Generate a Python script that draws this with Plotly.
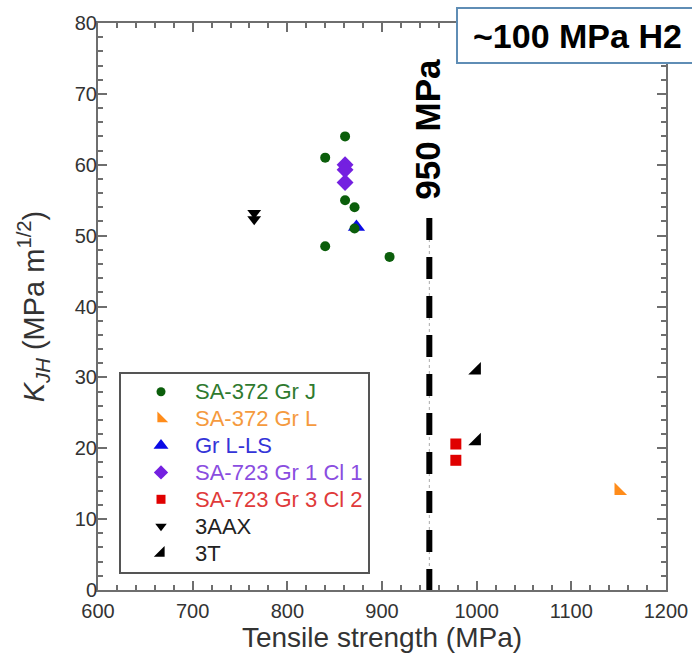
import plotly.graph_objects as go

# ---- data ----
gr_j_x = [840, 861, 861, 871, 871, 840, 908]
gr_j_y = [61, 64, 55, 54, 51, 48.5, 47]
gr_l_x = [1150]
gr_l_y = [14]
grlls_x = [873]
grlls_y = [51.2]
sa723_1_x = [861, 861, 861]
sa723_1_y = [60, 59.3, 57.5]
sa723_3_x = [978, 978]
sa723_3_y = [20.6, 18.3]
aax_x = [765, 765]
aax_y = [53.2, 52.3]
t3_x = [1000, 1000]
t3_y = [31, 21]
threshold_x = 950
threshold_top = 52.5
x_ticks = [600, 700, 800, 900, 1000, 1100, 1200]
y_ticks = [0, 10, 20, 30, 40, 50, 60, 70, 80]

FONT = "Liberation Sans, Arial, sans-serif"

series = [
    ("SA-372 Gr J", gr_j_x, gr_j_y, "circle", "#0b5e0b", "#2f7a2f", 10),
    ("SA-372 Gr L", gr_l_x, gr_l_y, "triangle-sw", "#ff8c1a", "#f59a3e", 14),
    ("Gr L-LS", grlls_x, grlls_y, "triangle-up", "#0a0ae6", "#3434d8", 15),
    ("SA-723 Gr 1 Cl 1", sa723_1_x, sa723_1_y, "diamond", "#7420e0", "#8a4de0", 13),
    ("SA-723 Gr 3 Cl 2", sa723_3_x, sa723_3_y, "square", "#e00000", "#e03a3a", 11),
    ("3AAX", aax_x, aax_y, "triangle-down", "#000000", "#222222", 12),
    ("3T", t3_x, t3_y, "triangle-se", "#000000", "#222222", 14),
]

# layout geometry (pixels)
W, H = 692, 655
ML, MR, MT, MB = 98, 26, 23, 65
PW, PH = W - ML - MR, H - MT - MB


def px_to_paper_x(px):
    return (px - ML) / PW


def px_to_paper_y(py):
    return (H - MB - py) / PH


fig = go.Figure()

# threshold lines
fig.add_trace(go.Scatter(x=[threshold_x, threshold_x], y=[0, threshold_top], mode="lines",
                         line=dict(color="#aaaaaa", width=1, dash="dot"),
                         showlegend=False, hoverinfo="skip"))
fig.add_trace(go.Scatter(x=[threshold_x, threshold_x], y=[threshold_top, 0], mode="lines",
                         line=dict(color="#000000", width=6, dash="22px,17px"),
                         showlegend=False, hoverinfo="skip"))

draw_order = [1, 2, 3, 4, 5, 6, 0]
for idx in draw_order:
    name, xs, ys, sym, mcol, tcol, size = series[idx]
    fig.add_trace(go.Scatter(
        x=xs, y=ys, mode="markers", name=name, showlegend=False,
        marker=dict(symbol=sym, color=mcol, size=size, opacity=1, line=dict(width=0)),
    ))

# ---- manual legend ----
leg_left, leg_right, leg_top, leg_bot = 120, 369, 373, 573
fig.add_shape(type="rect", xref="paper", yref="paper",
              x0=px_to_paper_x(leg_left), x1=px_to_paper_x(leg_right),
              y0=px_to_paper_y(leg_bot), y1=px_to_paper_y(leg_top),
              line=dict(color="#555555", width=2), fillcolor="white", layer="below")
row0, row_gap = 391.7, 26.9
glyph_x, text_x = 161, 193
lx, ly, lsym, lcol, lsize = [], [], [], [], []
for i, (name, xs, ys, sym, mcol, tcol, size) in enumerate(series):
    yy = px_to_paper_y(row0 + i * row_gap)
    lx.append(px_to_paper_x(glyph_x))
    ly.append(yy)
    lsym.append(sym)
    lcol.append(mcol)
    lsize.append(max(size - 2, 9))
    fig.add_annotation(x=px_to_paper_x(text_x), y=yy, xref="paper", yref="paper",
                       xanchor="left", yanchor="middle", showarrow=False, text=name,
                       font=dict(family=FONT, size=22, color=tcol))
fig.add_trace(go.Scatter(x=lx, y=ly, xaxis="x3", yaxis="y3", mode="markers",
                         marker=dict(symbol=lsym, color=lcol, size=lsize, opacity=1, line=dict(width=0)),
                         showlegend=False, hoverinfo="skip"))

# invisible trace for mirrored top/right axes
fig.add_trace(go.Scatter(x=[600], y=[0], xaxis="x2", yaxis="y2", mode="markers",
                         marker=dict(opacity=0), showlegend=False, hoverinfo="skip"))

AX = "#6e6e6e"
axis_common = dict(
    showline=True, linecolor=AX, linewidth=2,
    ticks="inside", ticklen=9, tickwidth=2, tickcolor=AX,
    showgrid=False, zeroline=False, automargin=False,
)
TF = dict(family=FONT, size=20, color="#333333")
minor_x = dict(dtick=20, ticks="inside", ticklen=5, tickwidth=2, tickcolor=AX, showgrid=False)
minor_y = dict(dtick=2, ticks="inside", ticklen=5, tickwidth=2, tickcolor=AX, showgrid=False)

fig.update_layout(
    xaxis=dict(range=[600, 1200], tickvals=x_ticks, minor=minor_x, tickfont=TF, ticklabelstandoff=2,
               title=dict(text="Tensile strength (MPa)", font=dict(family=FONT, size=28, color="#333333"), standoff=1),
               **axis_common),
    yaxis=dict(range=[0, 80], tickvals=y_ticks, minor=minor_y, tickfont=TF, ticklabelstandoff=-5,
               title=dict(text="<i>K</i><sub><i>JH</i></sub> (MPa m<sup>1/2</sup>)",
                          font=dict(family=FONT, size=29, color="#333333"), standoff=22),
               **axis_common),
    xaxis2=dict(range=[600, 1200], tickvals=x_ticks, minor=minor_x, overlaying="x", side="top",
                showticklabels=False, **axis_common),
    yaxis2=dict(range=[0, 80], tickvals=y_ticks, minor=minor_y, overlaying="y", side="right",
                showticklabels=False, **axis_common),
    xaxis3=dict(range=[0, 1], overlaying="x", visible=False, fixedrange=True),
    yaxis3=dict(range=[0, 1], overlaying="y", visible=False, fixedrange=True),
)

# 950 MPa label
fig.add_annotation(x=threshold_x, y=65, xref="x", yref="y", text="<b>950 MPa</b>",
                   textangle=-90, showarrow=False, xshift=-2,
                   font=dict(family=FONT, size=35, color="#000000"))

# title box
fig.add_shape(type="rect", xref="paper", yref="paper",
              x0=px_to_paper_x(457), x1=px_to_paper_x(720),
              y0=px_to_paper_y(63), y1=px_to_paper_y(8),
              line=dict(color="#5f8db5", width=2), fillcolor="white", layer="above")
fig.add_annotation(x=px_to_paper_x(471), y=px_to_paper_y(36), xref="paper", yref="paper",
                   xanchor="left", yanchor="middle",
                   text="<b>~100 MPa H2</b>", showarrow=False,
                   font=dict(family=FONT, size=34, color="#000000"))

fig.update_layout(
    width=W, height=H,
    margin=dict(l=ML, r=MR, t=MT, b=MB),
    plot_bgcolor="white", paper_bgcolor="white",
    showlegend=False,
)

fig.write_html("out.html", config={"displayModeBar": False},
               post_script="document.body.style.margin='0';")
